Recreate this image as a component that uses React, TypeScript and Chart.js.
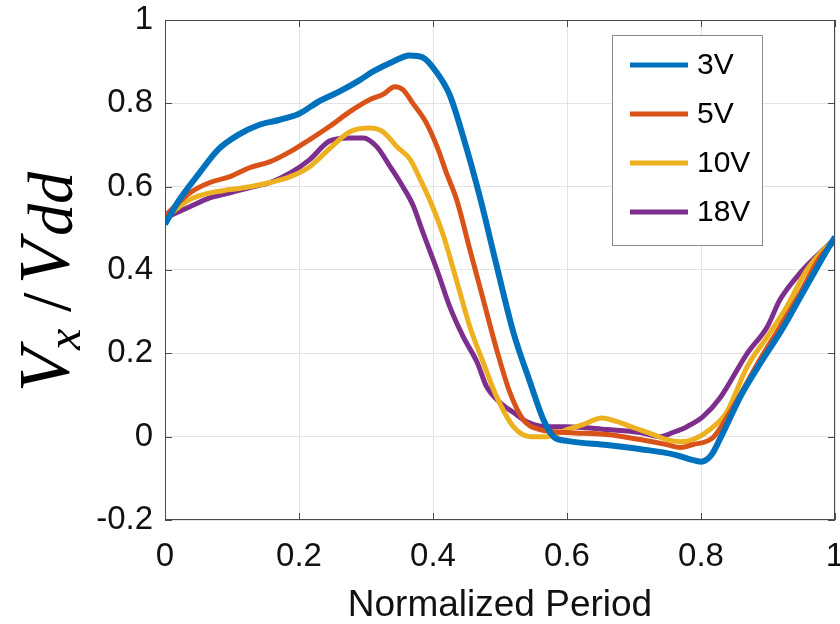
import React, { useEffect, useRef } from "react";
import { Chart, registerables } from "chart.js";

Chart.register(...registerables);

// ---- data ----
const seriesLabels = ["3V", "5V", "10V", "18V"];
const seriesColors = ["#0072BD", "#D95319", "#EDB120", "#7E2F8E"];

const x3V = [0, 0.02, 0.05, 0.08, 0.11, 0.14, 0.17, 0.2, 0.23, 0.26, 0.29, 0.31, 0.34, 0.365, 0.385, 0.405, 0.425, 0.445, 0.47, 0.495, 0.52, 0.545, 0.565, 0.58, 0.6, 0.66, 0.71, 0.76, 0.785, 0.8, 0.815, 0.83, 0.86, 0.89, 0.92, 0.95, 0.98, 1.0];
const y3V = [0.51, 0.565, 0.63, 0.69, 0.725, 0.748, 0.76, 0.775, 0.805, 0.828, 0.855, 0.876, 0.9, 0.915, 0.91, 0.875, 0.82, 0.72, 0.575, 0.41, 0.25, 0.13, 0.04, 0.0, -0.01, -0.02, -0.03, -0.043, -0.055, -0.06, -0.045, 0.0, 0.1, 0.18, 0.255, 0.34, 0.425, 0.48];

const x5V = [0, 0.037, 0.067, 0.097, 0.127, 0.157, 0.187, 0.216, 0.246, 0.276, 0.306, 0.325, 0.343, 0.355, 0.37, 0.39, 0.406, 0.42, 0.436, 0.455, 0.475, 0.495, 0.515, 0.535, 0.56, 0.6, 0.66, 0.709, 0.749, 0.769, 0.788, 0.818, 0.843, 0.888, 0.918, 0.948, 0.978, 1.0];
const y5V = [0.53, 0.585, 0.61, 0.624, 0.646, 0.66, 0.684, 0.713, 0.745, 0.78, 0.809, 0.821, 0.84, 0.833, 0.8, 0.753, 0.696, 0.633, 0.565, 0.449, 0.329, 0.209, 0.105, 0.04, 0.017, 0.01, 0.005, -0.007, -0.019, -0.026, -0.019, -0.002, 0.058, 0.185, 0.264, 0.345, 0.432, 0.47];

const x10V = [0, 0.037, 0.067, 0.097, 0.127, 0.157, 0.187, 0.216, 0.246, 0.276, 0.306, 0.325, 0.346, 0.366, 0.381, 0.396, 0.415, 0.436, 0.455, 0.475, 0.495, 0.52, 0.545, 0.57, 0.6, 0.624, 0.652, 0.675, 0.699, 0.729, 0.749, 0.769, 0.788, 0.813, 0.838, 0.869, 0.899, 0.928, 0.958, 0.988, 1.0];
const y10V = [0.525, 0.569, 0.585, 0.593, 0.6, 0.61, 0.624, 0.648, 0.692, 0.732, 0.741, 0.732, 0.696, 0.665, 0.617, 0.565, 0.485, 0.37, 0.264, 0.178, 0.096, 0.024, 0.0, 0.0, 0.017, 0.029, 0.045, 0.036, 0.022, 0.005, -0.007, -0.012, -0.007, 0.017, 0.058, 0.168, 0.24, 0.312, 0.4, 0.456, 0.47];

const x18V = [0, 0.037, 0.067, 0.097, 0.127, 0.157, 0.187, 0.216, 0.246, 0.276, 0.296, 0.316, 0.336, 0.355, 0.37, 0.385, 0.406, 0.425, 0.445, 0.466, 0.48, 0.5, 0.52, 0.54, 0.57, 0.6, 0.66, 0.709, 0.739, 0.758, 0.779, 0.803, 0.828, 0.869, 0.899, 0.918, 0.948, 0.978, 1.0];
const y18V = [0.525, 0.552, 0.573, 0.585, 0.598, 0.61, 0.633, 0.665, 0.71, 0.717, 0.717, 0.696, 0.648, 0.6, 0.556, 0.49, 0.4, 0.312, 0.24, 0.178, 0.12, 0.082, 0.058, 0.036, 0.024, 0.024, 0.017, 0.01, 0.0, 0.01, 0.024, 0.048, 0.092, 0.2, 0.264, 0.329, 0.393, 0.442, 0.475];

const seriesX = [x3V, x5V, x10V, x18V];
const seriesY = [y3V, y5V, y10V, y18V];

const xTickValues = [0, 0.2, 0.4, 0.6, 0.8, 1];
const yTickValues = [-0.2, 0, 0.2, 0.4, 0.6, 0.8, 1];
const xTitle = "Normalized Period";

const fmt = (v: number) => String(Number(v.toFixed(1)));

const framePlugin = {
  id: "matlabFrame",
  afterDatasetsDraw(chart: any) {
    const { ctx, chartArea: a, scales } = chart;
    ctx.save();
    // frame
    ctx.strokeStyle = "#4a4a4a";
    ctx.lineWidth = 1;
    ctx.strokeRect(a.left + 0.5, a.top + 0.5, a.right - a.left - 1, a.bottom - a.top - 1);
    // inward ticks
    const tl = 7;
    ctx.beginPath();
    xTickValues.forEach((v) => {
      const px = Math.round(scales.x.getPixelForValue(v)) + 0.5;
      ctx.moveTo(px, a.bottom);
      ctx.lineTo(px, a.bottom - tl);
      ctx.moveTo(px, a.top);
      ctx.lineTo(px, a.top + tl);
    });
    yTickValues.forEach((v) => {
      const py = Math.round(scales.y.getPixelForValue(v)) + 0.5;
      ctx.moveTo(a.left, py);
      ctx.lineTo(a.left + tl, py);
      ctx.moveTo(a.right, py);
      ctx.lineTo(a.right - tl, py);
    });
    ctx.stroke();

    // legend box
    const lx = 612, ly = 35, lw = 150, lh = 210;
    ctx.fillStyle = "#ffffff";
    ctx.fillRect(lx, ly, lw, lh);
    ctx.strokeStyle = "#8a8a8a";
    ctx.strokeRect(lx + 0.5, ly + 0.5, lw, lh);
    ctx.font = "30px 'Liberation Sans', Arial, sans-serif";
    ctx.textBaseline = "middle";
    ctx.textAlign = "left";
    seriesLabels.forEach((lab, i) => {
      const yy = 65 + i * 49;
      ctx.strokeStyle = seriesColors[i];
      ctx.lineWidth = 5;
      ctx.beginPath();
      ctx.moveTo(630, yy);
      ctx.lineTo(688, yy);
      ctx.stroke();
      ctx.fillStyle = "#000";
      ctx.fillText(lab, 697, yy + 1);
    });

    // y-axis title: V_x /Vdd (rotated)
    ctx.translate(68, 392);
    ctx.rotate(-Math.PI / 2);
    ctx.fillStyle = "#000";
    ctx.textBaseline = "alphabetic";
    ctx.font = "italic 72px 'Liberation Serif', 'DejaVu Serif', serif";
    ctx.fillText("V", 0, 0);
    ctx.font = "italic 48px 'Liberation Serif', 'DejaVu Serif', serif";
    ctx.fillText("x", 42, 12);
    ctx.font = "70px 'Liberation Serif', 'DejaVu Serif', serif";
    ctx.fillText("/", 80, 2);
    ctx.font = "italic 72px 'Liberation Serif', 'DejaVu Serif', serif";
    ctx.fillText("V", 108, 0);
    ctx.font = "italic 64px 'Liberation Serif', 'DejaVu Serif', serif";
    ctx.fillText("dd", 156, 4);
    ctx.restore();
  },
};

export default function App() {
  const ref = useRef<HTMLCanvasElement | null>(null);
  useEffect(() => {
    if (!ref.current) return;
    const datasets = seriesLabels.map((lab, i) => ({
      label: lab,
      data: seriesX[i].map((x, j) => ({ x, y: seriesY[i][j] })),
      borderColor: seriesColors[i],
      backgroundColor: seriesColors[i],
      borderWidth: i === 0 ? 6 : 5,
      pointRadius: 0,
      fill: false,
      cubicInterpolationMode: "monotone" as const,
    }));
    const tickFont = { family: "'Liberation Sans', Arial, sans-serif", size: 33 };
    const chart = new Chart(ref.current, {
      type: "line",
      data: { datasets },
      plugins: [framePlugin],
      options: {
        animation: false,
        responsive: false,
        layout: { padding: { top: 20, right: 5, left: 0, bottom: 0 } },
        plugins: { legend: { display: false }, tooltip: { enabled: false } },
        scales: {
          x: {
            type: "linear",
            min: 0,
            max: 1,
            afterBuildTicks: (s: any) => {
              s.ticks = xTickValues.map((v) => ({ value: v }));
            },
            afterFit: (s: any) => {
              s.height = 104;
              s.paddingLeft = 0;
              s.paddingRight = 0;
            },
            ticks: {
              font: tickFont,
              color: "#111",
              padding: 17,
              autoSkip: false,
              maxRotation: 0,
              callback: (v: any) => fmt(Number(v)),
            },
            grid: { color: "#e3e3e3", drawTicks: false },
            border: { display: false },
            title: {
              display: true,
              text: xTitle,
              color: "#111",
              font: { family: "'Liberation Sans', Arial, sans-serif", size: 37, lineHeight: 1 },
              padding: { top: 0, bottom: 0 },
            },
          },
          y: {
            type: "linear",
            min: -0.2,
            max: 1,
            afterBuildTicks: (s: any) => {
              s.ticks = yTickValues.map((v) => ({ value: v }));
            },
            afterFit: (s: any) => {
              s.width = 165;
              s.paddingTop = 0;
              s.paddingBottom = 0;
            },
            ticks: {
              font: tickFont,
              color: "#111",
              padding: 12,
              autoSkip: false,
              callback: (v: any) => fmt(Number(v)),
            },
            grid: { color: "#e3e3e3", drawTicks: false },
            border: { display: false },
          },
        },
      },
    });
    return () => chart.destroy();
  }, []);
  return (
    <div style={{ position: "absolute", left: 0, top: 0, width: 840, height: 624, background: "#fff" }}>
      <canvas ref={ref} width={840} height={624} />
    </div>
  );
}
